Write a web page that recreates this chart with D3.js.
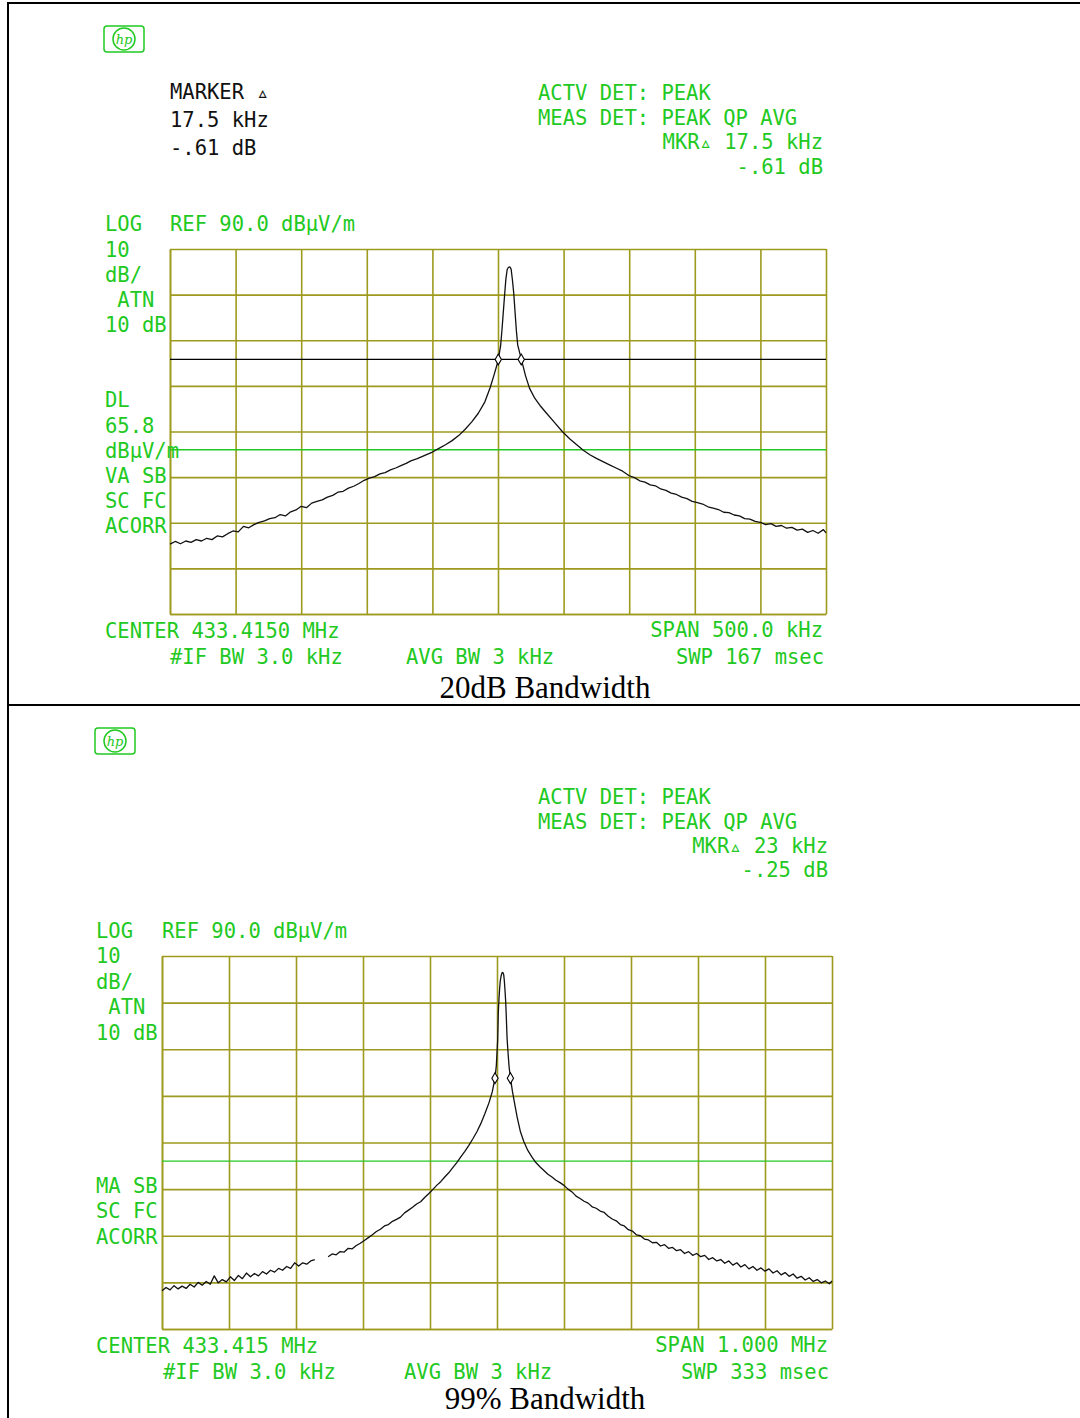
<!DOCTYPE html>
<html>
<head>
<meta charset="utf-8">
<script src="https://cdnjs.cloudflare.com/ajax/libs/d3/7.8.5/d3.min.js"></script>
<style>
  body { margin: 0; background: #fff; }
  text.crt { font-family: "DejaVu Sans Mono", monospace; font-size: 20.5px; }
  text.cap { font-family: "Liberation Serif", "Times New Roman", serif; font-size: 31px; }
</style>
</head>
<body>
<svg id="chart" width="1080" height="1418"></svg>
<script>
// analyzer settings
var refLevel = 90, bottomLevel = 10;
var gridDb = [10, 20, 30, 40, 50, 60, 70, 80, 90];
var topGridKhz = [-250, -200, -150, -100, -50, 0, 50, 100, 150, 200, 250];
var bottomGridKhz = [-500, -400, -300, -200, -100, 0, 100, 200, 300, 400, 500];
var limitDb = 46.0;
var topDisplayLine = 65.8;

// trace points [offset kHz, dBuV/m]; null = gap in the sweep
var topTrace = [[-250,25.3],[-246,25.9],[-242,25.4],[-238,26.0],[-234,25.7],[-230,26.3],[-226,26.0],[-222,26.6],
  [-218,26.3],[-214,27.1],[-210,26.9],[-206,27.6],[-202,28.2],[-198,28.0],[-194,29.2],[-190,28.9],[-186,29.6],
  [-182,30.1],[-178,30.4],[-174,30.9],[-170,31.1],[-166,31.8],[-162,31.5],[-158,32.4],[-154,32.8],[-150,33.6],
  [-146,33.3],[-142,34.3],[-138,34.7],[-134,35.0],[-130,35.6],[-126,36.0],[-122,36.7],[-118,36.9],[-114,37.6],
  [-110,38.0],[-106,38.6],[-102,39.3],[-98,39.8],[-94,40.1],[-90,40.7],[-86,41.0],[-82,41.6],[-78,42.0],
  [-74,42.5],[-70,43.0],[-66,43.6],[-62,44.0],[-58,44.5],[-54,45.0],[-50,45.5],[-45,46.3],[-40,47.1],[-35,48.0],
  [-30,49.1],[-25,50.5],[-20,52.1],[-15,54.0],[-10,56.5],[-6,59.6],[-3,62.4],[0,65.4],[2,68.8],[3,72.2],
  [4,76.0],[5,79.8],[6,83.4],[7,85.5],[8,86.0],[9,86.1],[10,85.6],[11,83.2],[12,80.3],[13,76.2],[14,72.1],
  [15,69.0],[16.5,67.3],[18,65.6],[21,62.2],[24,59.5],[28,57.3],[32,55.7],[37,54.0],[43,52.0],[49,50.0],
  [55,48.3],[60,47.1],[65,45.9],[70,44.9],[75,44.1],[80,43.4],[85,42.7],[90,42.0],[95,41.3],[100,40.3],
  [104,39.9],[108,39.2],[112,38.9],[116,38.3],[120,38.1],[124,37.4],[128,37.1],[132,36.5],[136,36.2],
  [140,35.6],[144,35.3],[148,34.7],[152,34.4],[156,34.1],[160,33.5],[164,33.2],[168,32.9],[172,32.3],
  [176,32.2],[180,31.7],[184,31.5],[188,30.9],[192,30.8],[196,30.3],[200,30.1],[204,29.6],[208,29.8],
  [212,29.2],[216,29.4],[220,28.8],[224,29.0],[228,28.4],[232,28.6],[236,27.9],[240,28.3],[244,27.7],
  [248,28.5],[250,27.8]];

var bottomTrace = [[-500,18.2],[-494,18.9],[-488,18.4],[-482,19.3],[-476,18.6],[-470,19.2],[-464,18.7],
  [-458,19.6],[-452,19.0],[-446,20.0],[-440,19.4],[-434,20.2],[-428,19.6],[-422,21.4],[-416,19.9],[-410,20.6],
  [-404,20.1],[-398,21.2],[-392,20.4],[-386,21.5],[-380,20.8],[-374,22.0],[-368,21.2],[-362,21.9],[-356,21.4],
  [-350,22.3],[-344,21.8],[-338,22.6],[-332,22.2],[-326,23.0],[-320,22.6],[-314,23.4],[-308,23.0],[-302,24.2],
  [-296,23.5],[-290,24.2],[-284,23.9],[-278,24.6],[-272,24.9],null,[-252,25.5],[-246,26.1],[-240,25.9],
  [-234,26.6],[-228,26.5],[-222,27.3],[-216,27.2],[-210,27.9],[-204,28.4],[-198,29.0],[-192,29.6],[-186,30.2],
  [-180,30.9],[-174,31.4],[-168,32.1],[-162,32.4],[-156,33.1],[-150,33.5],[-144,34.0],[-138,34.9],[-132,35.5],
  [-126,36.1],[-120,36.8],[-114,37.3],[-108,38.2],[-102,39.0],[-96,39.9],[-90,40.8],[-84,41.6],[-78,42.6],
  [-72,43.5],[-66,44.6],[-60,45.7],[-54,46.9],[-48,48.1],[-42,49.4],[-36,50.8],[-30,52.3],[-24,54.1],
  [-18,56.2],[-12,58.5],[-7,60.9],[-3,63.8],[-1,66.5],[1,72.0],[2,78.0],[3,81.0],[4,83.2],[5,84.8],[6,85.6],
  [7,86.2],[8,86.5],[9,86.4],[10,86.0],[11,84.6],[12,82.5],[13,80.2],[14,76.5],[15,72.5],[16,70.2],[18,66.3],
  [20,63.9],[23,61.0],[26,58.6],[30,55.5],[35,52.3],[40,50.2],[46,48.3],[52,46.9],[58,45.7],[64,44.8],
  [70,44.0],[76,43.2],[82,42.6],[88,41.9],[94,41.4],[100,40.8],[106,40.0],[112,39.4],[118,38.5],[124,38.0],
  [130,37.4],[136,37.0],[142,36.2],[148,35.9],[154,35.3],[160,35.0],[166,34.2],[172,33.6],[178,33.2],
  [184,32.4],[190,32.1],[196,31.3],[202,31.0],[208,30.2],[214,30.0],[220,29.3],[226,29.1],[232,28.5],
  [238,28.6],[244,27.8],[250,28.1],[256,27.3],[262,27.5],[268,26.8],[274,27.0],[280,26.2],[286,26.6],
  [292,25.8],[298,26.2],[304,25.5],[310,25.8],[316,24.9],[322,25.3],[328,24.6],[334,24.9],[340,24.1],
  [346,24.6],[352,23.7],[358,24.2],[364,23.3],[370,23.8],[376,22.9],[382,23.4],[388,22.6],[394,23.1],
  [400,22.4],[406,22.9],[412,22.0],[418,22.5],[424,21.6],[430,22.1],[436,21.3],[442,21.8],[448,20.9],
  [454,21.3],[460,20.5],[466,21.0],[472,20.2],[478,20.6],[484,19.9],[490,20.3],[496,19.7],[500,20.3]];

var topMarkers = [[0.2, 65.8], [17.7, 65.8]];
var bottomMarkers = [[-3, 63.8], [20, 63.8]];

// screen annotations
var topHeader = ['ACTV DET: PEAK', 'MEAS DET: PEAK QP AVG'];
var topMkr = ['MKR\u25B5 17.5 kHz', '-.61 dB'];
var topMarkerBlock = ['MARKER \u25B5', '17.5 kHz', '-.61 dB'];
var topSide = ['10', 'dB/', ' ATN', '10 dB', '', '', 'DL', '65.8', 'dB\u00B5V/m', 'VA SB', 'SC FC', 'ACORR'];
var topFooter = ['CENTER 433.4150 MHz', '#IF BW 3.0 kHz', 'AVG BW 3 kHz', 'SPAN 500.0 kHz', 'SWP 167 msec'];
var bottomHeader = ['ACTV DET: PEAK', 'MEAS DET: PEAK QP AVG'];
var bottomMkr = ['MKR\u25B5 23 kHz', '-.25 dB'];
var bottomSide = ['10', 'dB/', ' ATN', '10 dB', '', '', '', '', '', 'MA SB', 'SC FC', 'ACORR'];
var bottomFooter = ['CENTER 433.415 MHz', '#IF BW 3.0 kHz', 'AVG BW 3 kHz', 'SPAN 1.000 MHz', 'SWP 333 msec'];
var refLabel = ['LOG', 'REF 90.0 dB\u00B5V/m'];
var captions = ['20dB Bandwidth', '99% Bandwidth'];

var green = '#22c922', olive = '#9e9a1e';
var svg = d3.select('#chart');

// outer table rules
svg.append('g').attr('stroke', '#000').attr('stroke-width', 2)
  .selectAll('line')
  .data([[8, 3, 1080, 3], [8, 2, 8, 1418], [8, 705, 1080, 705]])
  .enter().append('line')
  .attr('x1', function(d) { return d[0]; }).attr('y1', function(d) { return d[1]; })
  .attr('x2', function(d) { return d[2]; }).attr('y2', function(d) { return d[3]; });

function label(g, txt, x, y, anchor, color) {
  return g.append('text').attr('class', 'crt')
    .attr('x', x).attr('y', y)
    .attr('text-anchor', anchor || 'start')
    .attr('fill', color || green)
    .attr('xml:space', 'preserve')
    .text(txt);
}

function hpLogo(g, x, y) {
  var lg = g.append('g').attr('transform', 'translate(' + x + ',' + y + ')')
    .attr('fill', 'none').attr('stroke', green).attr('stroke-width', 1.5);
  lg.append('rect').attr('width', 40).attr('height', 26).attr('rx', 3);
  lg.append('ellipse').attr('cx', 20).attr('cy', 13).attr('rx', 11).attr('ry', 11);
  lg.append('text').attr('x', 20).attr('y', 18).attr('text-anchor', 'middle')
    .attr('fill', green).attr('stroke', 'none')
    .style('font', 'italic 13px "DejaVu Serif", serif').text('hp');
}

function drawPanel(p) {
  var g = svg.append('g');
  var x = d3.scaleLinear().domain([-p.span / 2, p.span / 2]).range([p.left, p.right]);
  var y = d3.scaleLinear().domain([bottomLevel, refLevel]).range([p.bottom, p.top]);

  // graticule through the axes
  var gx = g.append('g').attr('transform', 'translate(0,' + p.bottom + ')')
    .call(d3.axisBottom(x).tickValues(p.gridKhz).tickSize(-(p.bottom - p.top)).tickSizeOuter(0).tickFormat(''));
  var gy = g.append('g').attr('transform', 'translate(' + p.left + ',0)')
    .call(d3.axisLeft(y).tickValues(gridDb).tickSize(-(p.right - p.left)).tickSizeOuter(0).tickFormat(''));
  [gx, gy].forEach(function(a) {
    a.selectAll('line, path').attr('stroke', olive).attr('stroke-width', 1.6);
  });

  // limit line (green) and display line (black)
  g.append('line').attr('x1', p.left).attr('x2', p.right)
    .attr('y1', y(limitDb)).attr('y2', y(limitDb))
    .attr('stroke', green).attr('stroke-width', 1.4);
  if (p.displayLine) {
    g.append('line').attr('x1', p.left).attr('x2', p.right)
      .attr('y1', y(p.displayLine)).attr('y2', y(p.displayLine))
      .attr('stroke', '#000').attr('stroke-width', 1.3);
  }

  var line = d3.line()
    .defined(function(d) { return d != null; })
    .x(function(d) { return x(d[0]); })
    .y(function(d) { return y(d[1]); });
  g.append('path').datum(p.trace)
    .attr('d', line).attr('fill', 'none')
    .attr('stroke', '#111').attr('stroke-width', 1.3).attr('stroke-linejoin', 'round');

  g.selectAll('path.mkr').data(p.markers).enter().append('path')
    .attr('class', 'mkr')
    .attr('d', d3.symbol(d3.symbolDiamond, 34))
    .attr('transform', function(d) { return 'translate(' + x(d[0]) + ',' + y(d[1]) + ')'; })
    .attr('fill', '#fff').attr('stroke', '#000').attr('stroke-width', 1.1);

  // screen texts
  hpLogo(g, p.logoX, p.logoY);
  label(g, p.header[0], 538, p.headY);
  label(g, p.header[1], 538, p.headY + 25);
  label(g, p.mkr[0], p.textRight, p.headY + 49, 'end');
  label(g, p.mkr[1], p.textRight, p.headY + 73.5, 'end');
  if (p.markerBlock) {
    p.markerBlock.forEach(function(t, i) { label(g, t, 170, 99 + i * 28, 'start', '#111'); });
  }
  label(g, refLabel[0], p.textLeft, p.top - 18);
  label(g, refLabel[1], p.left, p.top - 18);
  p.side.forEach(function(t, i) {
    if (t) label(g, t, p.textLeft, p.sideY + i * p.sideStep);
  });
  label(g, p.footer[0], p.textLeft, p.bottom + 24);
  label(g, p.footer[1], p.ifX, p.bottom + 50);
  label(g, p.footer[2], p.avgX, p.bottom + 50);
  label(g, p.footer[3], p.textRight, p.bottom + 23, 'end');
  label(g, p.footer[4], p.textRight + 1, p.bottom + 50, 'end');

  g.append('text').attr('class', 'cap').attr('x', 545).attr('y', p.capY)
    .attr('text-anchor', 'middle').attr('fill', '#000').text(p.caption);
}

drawPanel({
  span: 500, gridKhz: topGridKhz, left: 170, right: 826, top: 249, bottom: 614,
  trace: topTrace, markers: topMarkers, displayLine: topDisplayLine,
  logoX: 104, logoY: 26, header: topHeader, mkr: topMkr, headY: 100, textRight: 823,
  markerBlock: topMarkerBlock, textLeft: 105, side: topSide, sideY: 256.5, sideStep: 25.15,
  footer: topFooter, ifX: 170, avgX: 406, caption: captions[0], capY: 698
});

drawPanel({
  span: 1000, gridKhz: bottomGridKhz, left: 162, right: 832, top: 956, bottom: 1329,
  trace: bottomTrace, markers: bottomMarkers, displayLine: null,
  logoX: 95, logoY: 728, header: bottomHeader, mkr: bottomMkr, headY: 803.5, textRight: 828,
  markerBlock: null, textLeft: 96, side: bottomSide, sideY: 963, sideStep: 25.5,
  footer: bottomFooter, ifX: 163, avgX: 404, caption: captions[1], capY: 1409
});
</script>
</body>
</html>
